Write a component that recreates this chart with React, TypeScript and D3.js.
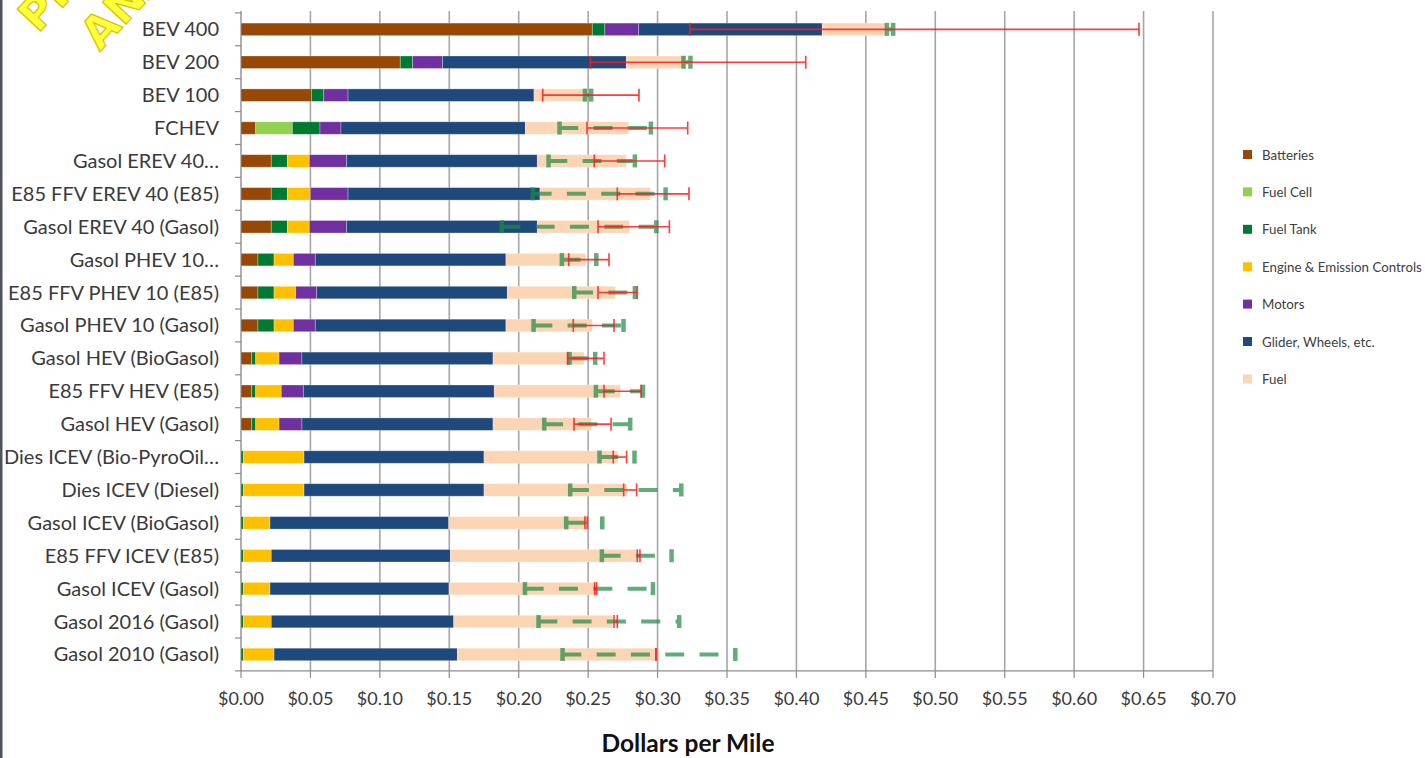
import React from "react";
import * as d3 from "d3";

const categories = [
  "BEV 400", "BEV 200", "BEV 100", "FCHEV", "Gasol EREV 40…",
  "E85 FFV EREV 40 (E85)", "Gasol EREV 40 (Gasol)", "Gasol PHEV 10…",
  "E85 FFV PHEV 10 (E85)", "Gasol PHEV 10 (Gasol)", "Gasol HEV (BioGasol)",
  "E85 FFV HEV (E85)", "Gasol HEV (Gasol)", "Dies ICEV (Bio-PyroOil…",
  "Dies ICEV (Diesel)", "Gasol ICEV (BioGasol)", "E85 FFV ICEV (E85)",
  "Gasol ICEV (Gasol)", "Gasol 2016 (Gasol)", "Gasol 2010 (Gasol)",
];

const seriesNames = ["Batteries", "Fuel Cell", "Fuel Tank", "Engine & Emission Controls", "Motors", "Glider, Wheels, etc.", "Fuel"];
const seriesColors = ["#974706", "#92D050", "#007A33", "#FFC000", "#7030A0", "#1F497D", "#FCD5B5"];

const batteries = [0.253, 0.1147, 0.0507, 0.0106, 0.0218, 0.0218, 0.0218, 0.0122, 0.0122, 0.0122, 0.0077, 0.0077, 0.0077, 0, 0, 0, 0, 0, 0, 0];
const fuelCell = [0, 0, 0, 0.0264, 0, 0, 0, 0, 0, 0, 0, 0, 0, 0, 0, 0, 0, 0, 0, 0];
const fuelTank = [0.009, 0.0089, 0.0089, 0.0199, 0.0116, 0.0116, 0.0116, 0.0116, 0.0116, 0.0116, 0.0029, 0.0029, 0.0029, 0.0017, 0.0017, 0.0017, 0.0017, 0.0017, 0.0017, 0.0017];
const engine = [0, 0, 0, 0, 0.0158, 0.0165, 0.0158, 0.0139, 0.0156, 0.0139, 0.0168, 0.0184, 0.0168, 0.0437, 0.0437, 0.0192, 0.0201, 0.0192, 0.0201, 0.0221];
const motors = [0.0244, 0.0216, 0.0175, 0.0151, 0.0269, 0.0272, 0.0269, 0.0158, 0.0151, 0.0158, 0.0165, 0.0159, 0.0165, 0, 0, 0, 0, 0, 0, 0];
const glider = [0.1322, 0.1323, 0.1339, 0.1328, 0.1373, 0.1382, 0.1373, 0.1373, 0.1373, 0.1373, 0.1376, 0.1375, 0.1376, 0.1296, 0.1296, 0.1287, 0.129, 0.1289, 0.1314, 0.132];
const fuel = [0.0464, 0.0425, 0.038, 0.0744, 0.0641, 0.0797, 0.0665, 0.0577, 0.078, 0.0622, 0.0655, 0.0908, 0.0708, 0.0963, 0.1032, 0.0998, 0.1353, 0.1059, 0.1145, 0.1431];

const greenLow = [0.465, 0.3185, 0.2475, 0.2292, 0.2213, 0.21, 0.1875, 0.2309, 0.2398, 0.2105, 0.2364, 0.2554, 0.2182, 0.258, 0.2369, 0.234, 0.2597, 0.2043, 0.2141, 0.2314];
const greenHigh = [0.4695, 0.3235, 0.252, 0.295, 0.2835, 0.3056, 0.2989, 0.2557, 0.2835, 0.2753, 0.2549, 0.2893, 0.2801, 0.2832, 0.3169, 0.26, 0.3099, 0.2965, 0.3154, 0.3558];
const redLow = [0.3233, 0.2516, 0.2173, 0.2492, 0.2544, 0.271, 0.2571, 0.236, 0.2571, 0.2393, 0.2352, 0.2614, 0.2398, 0.2681, 0.2756, 0.2477, 0.2854, 0.2547, 0.2686, 0.2987];
const redHigh = [0.6467, 0.4067, 0.2866, 0.3217, 0.3051, 0.3226, 0.3085, 0.265, 0.2854, 0.2686, 0.2614, 0.2881, 0.2665, 0.2777, 0.2849, 0.2494, 0.2873, 0.2561, 0.271, 0.2991];

const xTicks = [0, 0.05, 0.1, 0.15, 0.2, 0.25, 0.3, 0.35, 0.4, 0.45, 0.5, 0.55, 0.6, 0.65, 0.7];

const W = 1425, H = 758;
const left = 241, right = 1213, top = 12.9, bottom = 670.9;

export default function App() {
  const x = d3.scaleLinear().domain([0, 0.7]).range([left, right]);
  const y = d3.scaleBand<string>().domain(categories).range([top, bottom]).paddingInner(0.62).paddingOuter(0.31);
  const step = y.step();
  const barH = 12.5;
  const cy = (c: string) => (y(c) as number) + y.bandwidth() / 2;

  const rows = categories.map((c, i) => ({
    cat: c,
    "Batteries": batteries[i],
    "Fuel Cell": fuelCell[i],
    "Fuel Tank": fuelTank[i],
    "Engine & Emission Controls": engine[i],
    "Motors": motors[i],
    "Glider, Wheels, etc.": glider[i],
    "Fuel": fuel[i],
  }));
  const stacked = d3.stack<any>().keys(seriesNames)(rows);
  const fmt = (v: number) => "$" + v.toFixed(2);

  return (
    <svg width={W} height={H} style={{ position: "absolute", left: 0, top: 0, background: "#fff" }} fontFamily="Lato, 'Open Sans', sans-serif">
      <rect x={0} y={0} width={W} height={H} fill="#fff" />
      {/* gridlines */}
      {xTicks.slice(1).map((t) => (
        <line key={"g" + t} x1={x(t)} x2={x(t)} y1={top - 2} y2={bottom} stroke="#a6a6a6" strokeWidth={1.6} />
      ))}
      {/* y axis */}
      <line x1={left} x2={left} y1={top - 2} y2={bottom} stroke="#8c8c8c" strokeWidth={1.4} />
      {d3.range(categories.length + 1).map((i) => (
        <line key={"yt" + i} x1={left - 6} x2={left} y1={top + i * step} y2={top + i * step} stroke="#8c8c8c" strokeWidth={1.2} />
      ))}
      {/* x axis */}
      <line x1={left} x2={right} y1={bottom} y2={bottom} stroke="#8c8c8c" strokeWidth={1.4} />
      {xTicks.map((t) => (
        <g key={"xt" + t}>
          <line x1={x(t)} x2={x(t)} y1={bottom} y2={bottom + 7} stroke="#8c8c8c" strokeWidth={1.2} />
          <text x={x(t)} y={705} textAnchor="middle" fontSize={18} fill="#3a3a3a">{fmt(t)}</text>
        </g>
      ))}
      {/* bars */}
      {stacked.map((s, si) => (
        <g key={"s" + si} fill={seriesColors[si]}>
          {s.map((d: any, i: number) => {
            const w = x(d[1]) - x(d[0]);
            if (w <= 0) return null;
            return (
              <rect key={i} x={x(d[0])} y={cy(categories[i]) - barH / 2} width={w} height={barH}
                stroke="rgba(255,255,255,0.35)" strokeWidth={0.8} />
            );
          })}
        </g>
      ))}
      {/* green dashed error bars */}
      {categories.map((c, i) => {
        const yc = cy(c);
        const x1 = x(greenLow[i]), x2 = x(greenHigh[i]);
        return (
          <g key={"ge" + i} opacity={0.7}>
            <line x1={x1} x2={x2} y1={yc} y2={yc} stroke="#1f8a45" strokeWidth={4} strokeDasharray="19 15.3" />
            <rect x={x1 - 2} y={yc - 6.5} width={4.5} height={13} fill="#1f8a45" />
            <rect x={x2 - 2} y={yc - 6.5} width={4.5} height={13} fill="#1f8a45" />
          </g>
        );
      })}
      {/* red error bars */}
      {categories.map((c, i) => {
        const yc = cy(c);
        const x1 = x(redLow[i]), x2 = x(redHigh[i]);
        return (
          <g key={"re" + i} stroke="#ff1a1a" strokeWidth={1.6} opacity={0.85}>
            <line x1={x1} x2={x2} y1={yc} y2={yc} />
            <line x1={x1} x2={x1} y1={yc - 6.5} y2={yc + 6.5} />
            <line x1={x2} x2={x2} y1={yc - 6.5} y2={yc + 6.5} />
          </g>
        );
      })}
      {/* category labels */}
      {categories.map((c) => (
        <text key={"cl" + c} x={219} y={cy(c) + 7} textAnchor="end" fontSize={20} fill="#3a3a3a">{c}</text>
      ))}
      {/* axis title */}
      <text x={688} y={752} textAnchor="middle" fontSize={24.5} fontWeight="bold" fill="#111">Dollars per Mile</text>
      {/* legend */}
      {seriesNames.map((n, i) => (
        <g key={"lg" + n} transform={`translate(1243, ${155 + i * 37.4})`}>
          <rect x={0} y={-5} width={9} height={9} fill={seriesColors[i]} />
          <text x={19} y={4.5} fontSize={13.3} fill="#404040">{n}</text>
        </g>
      ))}
      {/* watermark (partially off-canvas, as in the original) */}
      <g fontWeight="bold" fontSize={44} fill="#ffff3a" stroke="#d6c400" strokeWidth={1.2} fontFamily="'DejaVu Sans', sans-serif">
        <text transform="translate(38,34) rotate(-47)">PRELIMINARY</text>
        <text transform="translate(100,52) rotate(-47)">ANALYSIS</text>
      </g>
      {/* left frame */}
      <rect x={0} y={0} width={2.5} height={H} fill="#4f535a" />
    </svg>
  );
}
